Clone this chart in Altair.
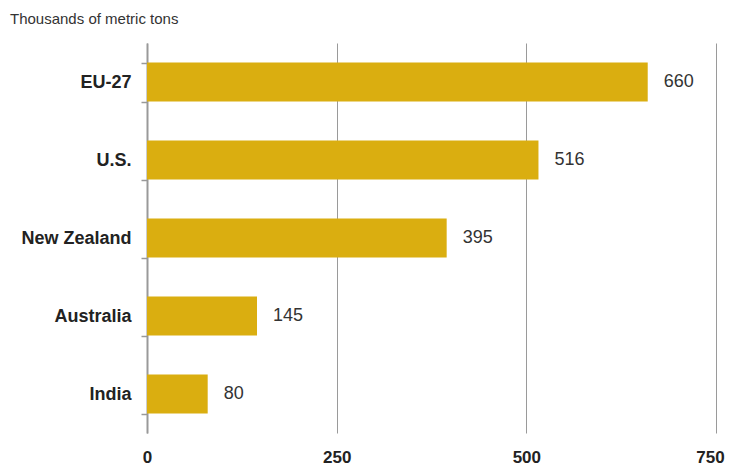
import altair as alt
import pandas as pd

countries = ["EU-27", "U.S.", "New Zealand", "Australia", "India"]
values = [660, 516, 395, 145, 80]
x_ticks = [0, 250, 500, 750]
title_text = ["Thousands of metric tons"]

df = pd.DataFrame({"country": countries, "value": values})
tdf = pd.DataFrame({"t": title_text})

FONT = "Liberation Sans"
GOLD = "#DAAE10"

base = alt.Chart(df)

bars = base.mark_bar(color=GOLD).encode(
    x=alt.X("value:Q",
            scale=alt.Scale(domain=[0, 750], nice=False),
            axis=alt.Axis(values=x_ticks, title=None, domain=False, ticks=False,
                          grid=True, gridColor="#9a9a9a", gridWidth=1,
                          labelFont=FONT, labelFontSize=17, labelFontWeight="bold",
                          labelColor="#222", labelPadding=16, labelFlush=False,
                          labelOffset={"condition": {"test": "datum.value == 750", "value": -6},
                                       "value": 0})),
    y=alt.Y("country:N", sort=countries,
            scale=alt.Scale(paddingInner=0.5, paddingOuter=0.25),
            axis=alt.Axis(title=None, domain=True, domainColor="#999", domainWidth=2,
                          ticks=True, tickBand="extent", tickColor="#999", tickSize=6,
                          tickWidth=1.5,
                          labelFont=FONT, labelFontSize=18, labelFontWeight="bold",
                          labelColor="#222", labelPadding=10)),
)

text = base.mark_text(align="left", dx=16, font=FONT, fontSize=18, color="#333").encode(
    x="value:Q",
    y=alt.Y("country:N", sort=countries),
    text="value:Q",
)

title = alt.Chart(tdf).mark_text(align="left", baseline="middle", font=FONT,
                                 fontSize=15, color="#333").encode(
    x=alt.value(-137), y=alt.value(-24), text="t:N"
)

chart = (bars + text + title).properties(
    width=569, height=390,
    autosize=alt.AutoSizeParams(type="none"),
    padding={"left": 139, "top": 35, "right": 10, "bottom": 33},
).configure_view(stroke=None)

chart.save("out.html", embed_options={"renderer": "svg", "actions": False})
